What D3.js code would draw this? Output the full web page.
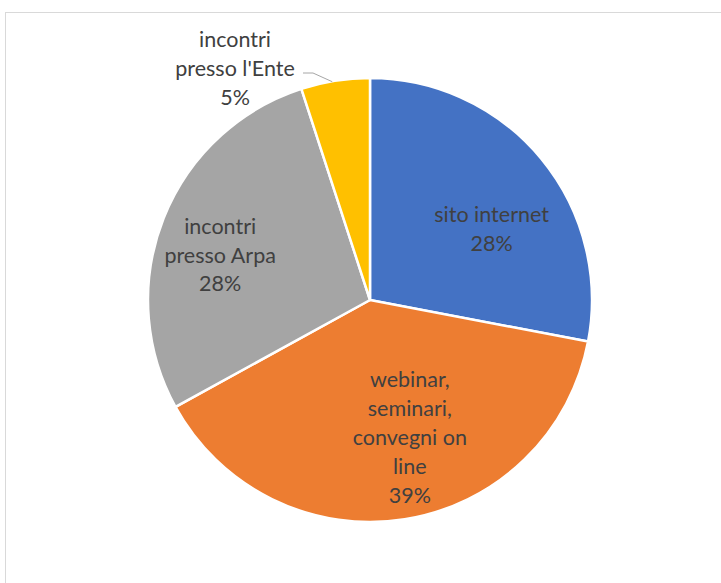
<!DOCTYPE html>
<html>
<head>
<meta charset="utf-8">
<script src="https://cdn.jsdelivr.net/npm/d3@7"></script>
<style>
    body { margin: 0; background: #fff; }
    svg { display: block; }
    text { font-family: Lato, "Open Sans", sans-serif; fill: #404040; font-size: 21.5px; }
</style>
</head>
<body>
<script>
const WIDTH = 721
const HEIGHT = 583

const categories = ["sito internet", "webinar, seminari, convegni on line", "incontri presso Arpa", "incontri presso l'Ente"]
const values = [28, 39, 28, 5]
const colors = ["#4472c4", "#ed7d31", "#a5a5a5", "#ffc000"]
// label lines, as wrapped in the picture
const labelLines = [
    ["sito internet", "28%"],
    ["webinar,", "seminari,", "convegni on", "line", "39%"],
    ["incontri", "presso Arpa", "28%"],
    ["incontri", "presso l'Ente", "5%"]
]
// nudges of each label from its slice centroid
const labelNudge = [[19, 14], [19, 6], [-26, 4], [0, 0]]

const CX = 370
const CY = 300
const R = 222

const svg = d3.select("body")
    .append("svg")
    .attr("width", WIDTH)
    .attr("height", HEIGHT)

svg.append("rect")
    .attr("x", 5.5)
    .attr("y", 12.5)
    .attr("width", WIDTH + 10)
    .attr("height", HEIGHT + 10)
    .attr("fill", "none")
    .attr("stroke", "#d9d9d9")

const data = categories.map((c, i) => ({ name: c, value: values[i], lines: labelLines[i], color: colors[i] }))

const pie = d3.pie().sort(null).value(d => d.value)
const arc = d3.arc().innerRadius(0).outerRadius(R)
const arcs = pie(data)

const g = svg.append("g").attr("transform", "translate(" + CX + "," + CY + ")")

g.selectAll("path")
    .data(arcs)
    .enter()
    .append("path")
    .attr("d", arc)
    .attr("fill", d => d.data.color)
    .attr("stroke", "#fff")
    .attr("stroke-width", 2.5)

const labelArc = d3.arc().innerRadius(R * 0.6).outerRadius(R * 0.6)
const LINE_H = 28.8

arcs.forEach((a, i) => {
    let x, y
    if (i === 3) {
        // outside label with leader line
        x = 235 - CX
        y = 68.5 - CY
    } else {
        const c = labelArc.centroid(a)
        x = c[0] + labelNudge[i][0]
        y = c[1] + labelNudge[i][1]
    }
    const lines = a.data.lines
    const top = y - (lines.length - 1) * LINE_H / 2
    const t = g.append("text")
        .attr("text-anchor", "middle")
    lines.forEach((l, k) => {
        t.append("tspan")
            .attr("x", x)
            .attr("y", top + k * LINE_H)
            .attr("dy", "0.35em")
            .text(l)
    })
})

// leader line for the small slice
const small = arcs[3]
const mid = (small.startAngle + small.endAngle) / 2
const edge = [Math.sin(mid) * R, -Math.cos(mid) * R]
g.append("polyline")
    .attr("points", [[303 - CX, 73 - CY], [313 - CX, 73 - CY], [edge[0] - 3, edge[1] + 1]].map(p => p.join(",")).join(" "))
    .attr("fill", "none")
    .attr("stroke", "#a6a6a6")
    .attr("stroke-width", 1)
</script>
</body>
</html>
